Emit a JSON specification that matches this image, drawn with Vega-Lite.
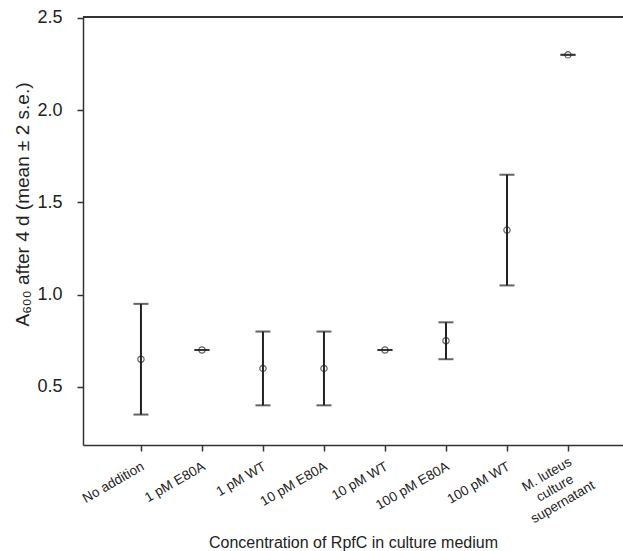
{
  "$schema": "https://vega.github.io/schema/vega-lite/v6.json",
  "autosize": "none",
  "width": 540,
  "height": 428,
  "padding": {"left": 83, "top": 17, "right": 0, "bottom": 106},
  "background": "white",
  "config": {
    "view": {"stroke": null},
    "font": "Liberation Sans",
    "axis": {"labelFont": "Liberation Sans", "titleFont": "Liberation Sans", "titleFontWeight": "normal", "grid": false, "domainColor": "#333333", "tickColor": "#333333", "labelColor": "#222222", "titleColor": "#222222", "domainWidth": 1.5, "tickWidth": 1.5}
  },
  "data": {
    "values": [
      {"group": "No addition", "mean": 0.65, "lo": 0.35, "hi": 0.95},
      {"group": "1 pM E80A", "mean": 0.70, "lo": 0.70, "hi": 0.70},
      {"group": "1 pM WT", "mean": 0.60, "lo": 0.40, "hi": 0.80},
      {"group": "10 pM E80A", "mean": 0.60, "lo": 0.40, "hi": 0.80},
      {"group": "10 pM WT", "mean": 0.70, "lo": 0.70, "hi": 0.70},
      {"group": "100 pM E80A", "mean": 0.75, "lo": 0.65, "hi": 0.85},
      {"group": "100 pM WT", "mean": 1.35, "lo": 1.05, "hi": 1.65},
      {"group": "M. luteus culture supernatant", "mean": 2.30, "lo": 2.30, "hi": 2.30}
    ]
  },
  "encoding": {
    "x": {
      "field": "group", "type": "ordinal", "sort": null,
      "scale": {"type": "point", "padding": 0.926, "align": 0.513},
      "axis": {
        "title": "Concentration of RpfC in culture medium",
        "titleFontSize": 16, "titleY": 102, "titleBaseline": "alphabetic",
        "labelAngle": -30, "labelFontSize": 13.5, "labelLineHeight": 16,
        "labelPadding": {"condition": {"test": "datum.value == 'M. luteus culture supernatant'", "value": 17}, "value": 8},
        "labelOffset": {"condition": {"test": "datum.value == 'M. luteus culture supernatant'", "value": -25}, "value": -2},
        "labelAlign": {"condition": {"test": "datum.value == 'M. luteus culture supernatant'", "value": "center"}, "value": "right"},
        "labelBaseline": "top",
        "tickSize": 6,
        "labelExpr": "datum.value == 'M. luteus culture supernatant' ? ['M. luteus', 'culture', 'supernatant'] : datum.value"
      }
    }
  },
  "layer": [
    {
      "mark": {"type": "rule", "color": "#222222", "strokeWidth": 2},
      "encoding": {
        "y": {
          "field": "lo", "type": "quantitative",
          "scale": {"domain": [0.185, 2.505], "nice": false, "zero": false},
          "axis": {
            "title": "A₆₀₀ after 4 d (mean ± 2 s.e.)",
            "titleFontSize": 19, "titlePadding": 4, "titleY": 187,
            "values": [0.5, 1.0, 1.5, 2.0, 2.5], "format": ".1f",
            "labelFontSize": 18, "tickSize": 6, "labelPadding": 15
          }
        },
        "y2": {"field": "hi"}
      }
    },
    {
      "mark": {"type": "tick", "orient": "horizontal", "color": "#222222", "thickness": 2, "size": 15},
      "encoding": {"y": {"field": "lo", "type": "quantitative"}}
    },
    {
      "mark": {"type": "tick", "orient": "horizontal", "color": "#222222", "thickness": 2, "size": 15},
      "encoding": {"y": {"field": "hi", "type": "quantitative"}}
    },
    {
      "mark": {"type": "point", "shape": "circle", "filled": false, "color": "#222222", "strokeWidth": 1.2, "size": 40},
      "encoding": {"y": {"field": "mean", "type": "quantitative"}}
    },
    {
      "mark": {"type": "rule", "color": "#333333", "strokeWidth": 1.5},
      "encoding": {"y": {"datum": 2.505}, "x": {"value": 0}, "x2": {"value": 540}}
    }
  ]
}
